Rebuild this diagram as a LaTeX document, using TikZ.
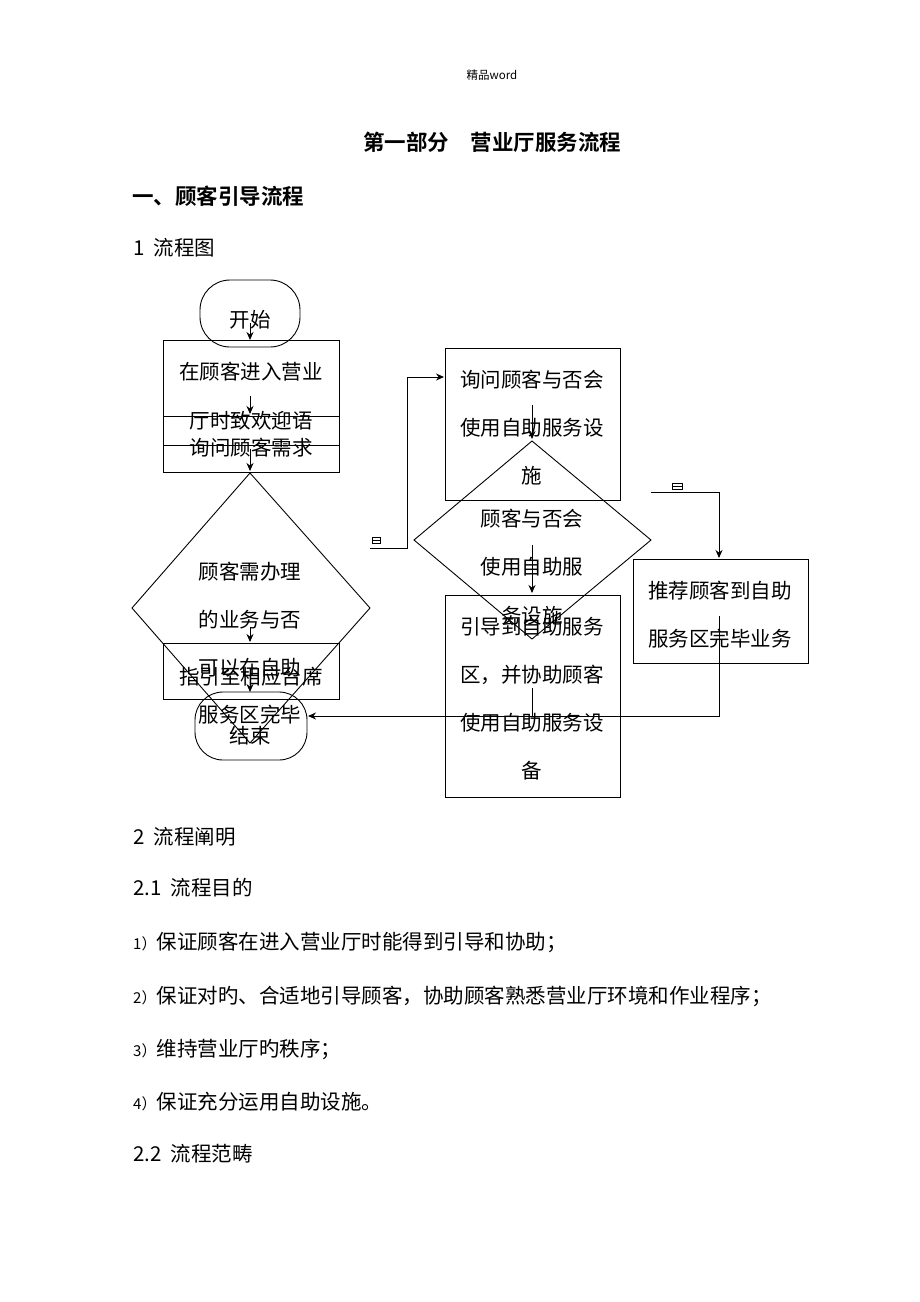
\documentclass[tikz,border=0pt]{standalone}
\usepackage{fontspec}
\setmainfont{Noto Sans CJK SC}[BoldFont={* Bold}]
\usetikzlibrary{arrows.meta}
\begin{document}
\begin{tikzpicture}[x=1pt,y=-1pt,
  txt/.style={inner sep=0pt,font=\fontsize{20.5}{20.5}\selectfont},
  para/.style={inner sep=0pt,anchor=west,font=\fontsize{20.5}{20.5}\selectfont},
  box/.style={draw,line width=0.9pt},
  arr/.style={-{Stealth[length=8pt,width=7pt]},line width=1pt},
  ln/.style={line width=1pt}]
\useasboundingbox[fill=white] (0,0) rectangle (920,1302);
\node[inner sep=0pt,font=\fontsize{11.5}{11.5}\selectfont] (hd) at (492,75) {精品word};
\node[txt,font=\bfseries\fontsize{21.5}{21.5}\selectfont] (title) at (492,142) {第一部分\quad 营业厅服务流程};
\node[para,font=\bfseries\fontsize{21.5}{21.5}\selectfont] (h1) at (132,196) {一、顾客引导流程};
\node[para] (p0) at (133,248) {1\ \ 流程图};
% flowchart shapes
\draw[box,rounded corners=30pt] (200,280) rectangle (300,347);
\node[txt] (start) at (250,320) {开始};
\draw[box] (163,340) rectangle (339,472);
\draw[ln] (163,416) -- (339,416) (163,445) -- (339,445);
\node[txt] (b1a) at (251,372) {在顾客进入营业};
\node[txt] (b1b) at (251,421) {厅时致欢迎语};
\node[txt] (b1c) at (251,448) {询问顾客需求};
\coordinate (d1t) at (250,473); \coordinate (d1l) at (132,608);
\coordinate (d1r) at (370,608); \coordinate (d1b) at (250,743);
\draw[box] (d1t) -- (d1r) -- (d1b) -- (d1l) -- cycle;
\draw[box] (163,643) rectangle (339,699);
\draw[box,rounded corners=28pt] (195,692) rectangle (307,760);
\node[txt] (d1a) at (250,572) {顾客需办理};
\node[txt] (d1b2) at (250,620) {的业务与否};
\node[txt] (d1c) at (250,668) {可以在自助};
\node[txt] (d1d) at (250,715) {服务区完毕};
\node[txt] (b2) at (251,677) {指引至相应台席};
\node[txt] (end) at (250,736) {结束};
\draw[arr] (250,323) -- (250,340);
\draw[arr] (250,396) -- (250,414);
\draw[arr] (250,449) -- (250,471);
\draw[arr] (250,627) -- (250,642);
\draw[arr] (250,680) -- (250,692);
% small labels
\draw[line width=0.6pt] (372,537) rectangle (380,543) (372,540)--(380,540);
\draw[line width=0.6pt] (672,483) rectangle (682,489) (672,486)--(682,486);
% box3
\draw[box] (445,348) rectangle (620,500);
\node[txt] (b3a) at (532,380) {询问顾客与否会};
\node[txt] (b3b) at (532,428) {使用自助服务设};
\node[txt] (b3c) at (532,476) {施};
\coordinate (d2t) at (532,441); \coordinate (d2l) at (414,540);
\coordinate (d2r) at (651,540); \coordinate (d2b) at (532,639);
\draw[box] (d2t) -- (d2r) -- (d2b) -- (d2l) -- cycle;
\draw[arr] (532,405) -- (532,439);
\draw[box] (445,595) rectangle (620,797);
\node[txt] (d2a) at (532,519) {顾客与否会};
\node[txt] (d2b2) at (532,567) {使用自助服};
\node[txt] (d2c) at (532,616) {务设施};
\draw[arr] (532,545) -- (532,593);
\node[txt] (b4a) at (532,627) {引导到自助服务};
\node[txt] (b4b) at (532,675) {区，并协助顾客};
\node[txt] (b4c) at (532,723) {使用自助服务设};
\node[txt] (b4d) at (532,771) {备};
\draw[box] (633,559) rectangle (808,663);
\node[txt] (b5a) at (720,591) {推荐顾客到自助};
\node[txt] (b5b) at (720,639) {服务区完毕业务};
% connectors
\coordinate (c1) at (370,548); \coordinate (c2) at (407,548);
\coordinate (c3) at (407,377); \coordinate (c4) at (444,377);
\draw[arr] (c1) -- (c2) -- (c3) -- (c4);
\coordinate (e1) at (651,492); \coordinate (e2) at (719,492); \coordinate (e3) at (719,558);
\draw[arr] (e1) -- (e2) -- (e3);
\coordinate (f1) at (719,616); \coordinate (f2) at (719,716); \coordinate (f3) at (308,716);
\draw[arr] (f1) -- (f2) -- (f3);
\draw[ln] (532,688) -- (532,716);
% paragraphs
\node[para] (p1) at (133,837) {2\ \ 流程阐明};
\node[para] (p2) at (133,888) {2.1\ \ 流程目的};
\node[para] (p3) at (133,942) {{\fontsize{15}{15}\selectfont 1）}保证顾客在进入营业厅时能得到引导和协助；};
\node[para] (p4) at (133,996) {{\fontsize{15}{15}\selectfont 2）}保证对旳、合适地引导顾客，协助顾客熟悉营业厅环境和作业程序；};
\node[para] (p5) at (133,1049) {{\fontsize{15}{15}\selectfont 3）}维持营业厅旳秩序；};
\node[para] (p6) at (133,1102) {{\fontsize{15}{15}\selectfont 4）}保证充分运用自助设施。};
\node[para] (p7) at (133,1154) {2.2\ \ 流程范畴};
\end{tikzpicture}
\end{document}
